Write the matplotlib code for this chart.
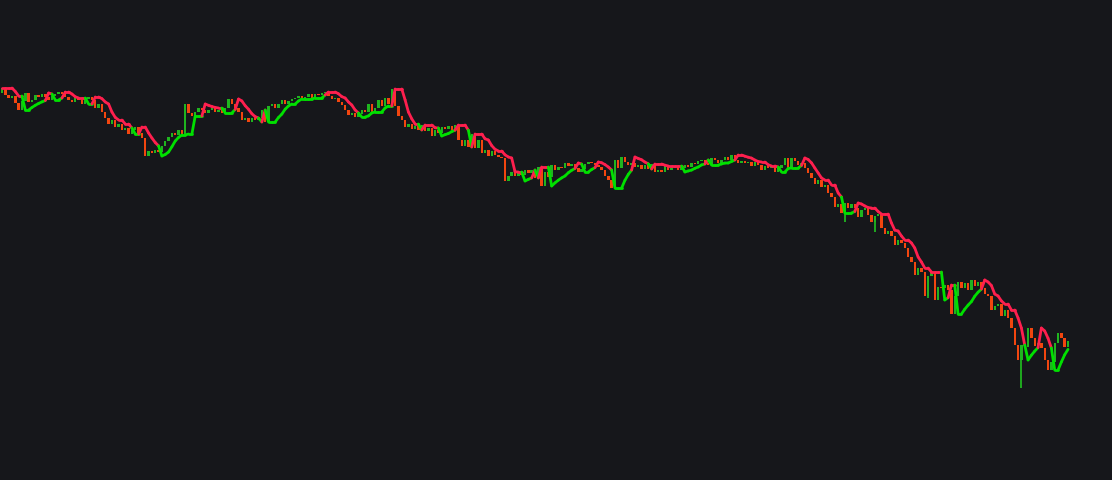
import numpy as np
import matplotlib.pyplot as plt
from matplotlib.collections import LineCollection

# closing prices, one per candle (open = previous close)
first_open = 387
closes = [
    392, 385, 382, 384, 377, 370, 379, 387, 378, 380, 385, 383,
    386, 383, 380, 384, 386, 388, 386, 383, 380, 378, 382, 380,
    376, 381, 383, 380, 372, 376, 368, 362, 356, 360, 353, 356,
    350, 352, 346, 350, 353, 347, 342, 324, 329, 327, 330, 328,
    334, 339, 343, 347, 345, 350, 346, 376, 367, 364, 368, 372,
    370, 367, 370, 372, 368, 370, 367, 372, 381, 376, 372, 368,
    360, 362, 358, 362, 360, 362, 370, 358, 374, 376, 372, 376,
    380, 376, 379, 381, 382, 384, 381, 383, 386, 382, 386, 385,
    387, 388, 384, 381, 382, 378, 375, 370, 365, 367, 363, 366,
    370, 368, 376, 368, 372, 380, 374, 382, 376, 391, 374, 364,
    360, 353, 356, 351, 354, 350, 355, 349, 352, 344, 350, 347,
    353, 351, 354, 350, 355, 340, 334, 340, 333, 346, 332, 340,
    327, 330, 324, 329, 325, 323, 322, 299, 304, 308, 304, 308,
    305, 310, 307, 310, 302, 313, 294, 308, 303, 315, 310, 313,
    312, 317, 314, 316, 312, 308, 311, 316, 318, 317, 315, 313,
    310, 304, 300, 292, 320, 312, 323, 318, 315, 317, 313, 315,
    311, 315, 311, 316, 308, 310, 308, 314, 310, 312, 314, 310,
    312, 315, 313, 317, 316, 319, 320, 317, 315, 322, 320, 317,
    320, 323, 320, 325, 320, 317, 319, 317, 318, 314, 318, 315,
    310, 314, 312, 313, 308, 312, 315, 322, 312, 322, 319, 315,
    317, 312, 307, 302, 296, 300, 293, 295, 287, 283, 273, 276,
    267, 277, 272, 276, 272, 263, 270, 272, 265, 258, 264, 266,
    252, 246, 249, 244, 235, 240, 237, 232, 223, 218, 205, 212,
    208, 184, 204, 208, 180, 193, 192, 195, 190, 166, 184, 198,
    192, 197, 190, 200, 194, 198, 192, 186, 184, 170, 174, 176,
    164, 170, 162, 152, 135, 120, 135, 133, 152, 142, 134, 137,
    132, 120, 110, 118, 137, 147, 142, 133, 139,
]
# candles with a long lower wick: index -> low price
wick_lows = {253: 258, 262: 248, 278: 182, 306: 92}

closes = np.array(closes, dtype=float)
opens = np.concatenate([[first_open], closes[:-1]])
body_hi = np.maximum(opens, closes)
body_lo = np.minimum(opens, closes)
lows = body_lo.copy()
for k, v in wick_lows.items():
    lows[k] = min(lows[k], v)


def psar(hi, lo, af0=0.15, step=0.1, afmax=0.6):
    n = len(hi)
    sar = np.zeros(n)
    bull = np.zeros(n, dtype=bool)
    up = False
    sar[0] = hi[0]
    ep = lo[0]
    af = af0
    for i in range(1, n):
        s = sar[i - 1] + af * (ep - sar[i - 1])
        if up:
            s = min(s, lo[i - 1], lo[max(i - 2, 0)])
            if lo[i] < s:
                up, s, ep, af = False, ep, lo[i], af0
            elif hi[i] > ep:
                ep, af = hi[i], min(af + step, afmax)
        else:
            s = max(s, hi[i - 1], hi[max(i - 2, 0)])
            if hi[i] > s:
                up, s, ep, af = True, ep, hi[i], af0
            elif lo[i] < ep:
                ep, af = lo[i], min(af + step, afmax)
        sar[i] = s
        bull[i] = up
    return sar, bull


# trailing line from candle bodies
sar, bull = psar(body_hi, body_lo)

bg = '#16171b'
fig = plt.figure(figsize=(11.12, 4.8), dpi=100, facecolor=bg)
ax = fig.add_axes([0, 0, 1, 1], facecolor=bg)

x = np.arange(len(closes))
up_c = closes >= opens
col = np.where(up_c, '#1fb51f', '#f2460f')
body = np.maximum(body_hi - body_lo, 1.5)
ax.bar(x, body, bottom=body_lo, width=0.72, color=col, linewidth=0)
ax.vlines(x, lows, body_hi, colors=col, linewidth=1.3)

pts = np.column_stack([x, sar])
segs = np.stack([pts[:-1], pts[1:]], axis=1)
lc_col = np.where(bull[1:], '#00e000', '#ff1f4e')
ax.add_collection(LineCollection(segs, colors=lc_col, linewidths=2.0, capstyle='round', joinstyle='round'))

ax.set_xlim(-0.6, 333.2)
ax.set_ylim(0, 480)
ax.axis('off')
fig.savefig('out.png', dpi=100, facecolor=bg)
